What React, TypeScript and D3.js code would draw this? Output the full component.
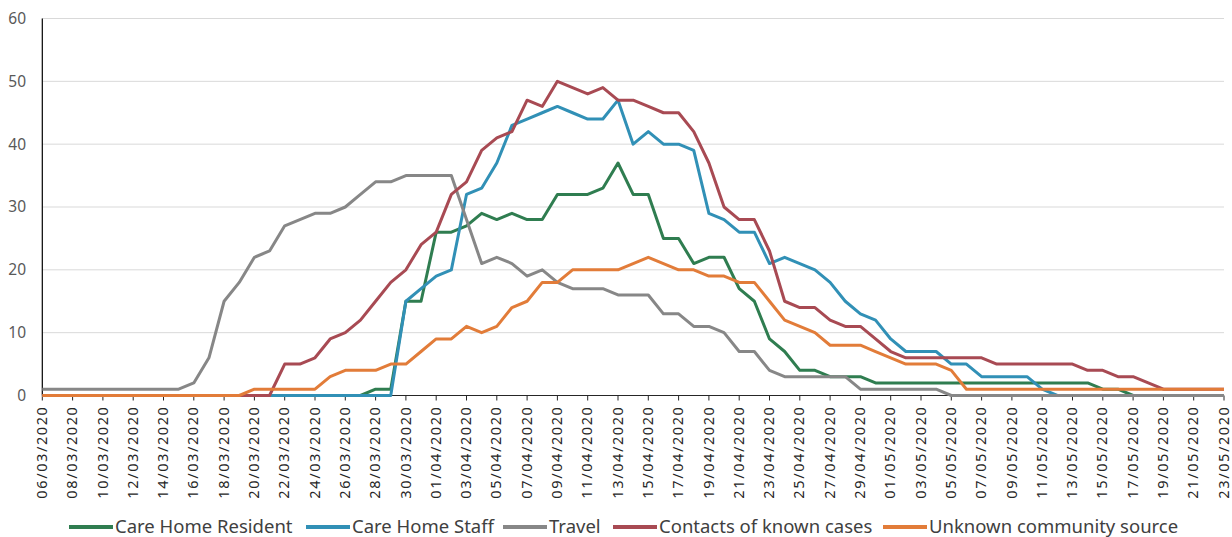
import * as d3 from "d3";

// Daily cases by likely source, 06/03/2020 .. 23/05/2020
const startDate = "06/03/2020";
const endDate = "23/05/2020";

const seriesNames = [
  "Care Home Resident",
  "Care Home Staff",
  "Travel",
  "Contacts of known cases",
  "Unknown community source",
];

const careHomeResident = [
  0, 0, 0, 0, 0, 0, 0, 0, 0, 0, 0, 0, 0, 0, 0, 0, 0, 0, 0, 0, 0, 0,
  1, 1, 15, 15, 26, 26, 27, 29, 28, 29, 28, 28, 32, 32, 32, 33, 37, 32, 32,
  25, 25, 21, 22, 22, 17, 15, 9, 7, 4, 4, 3, 3, 3,
  2, 2, 2, 2, 2, 2, 2, 2, 2, 2, 2, 2, 2, 2, 2, 1, 1,
  0, 0, 0, 0, 0, 0, 0,
];

const careHomeStaff = [
  0, 0, 0, 0, 0, 0, 0, 0, 0, 0, 0, 0, 0, 0, 0, 0, 0, 0, 0, 0, 0, 0, 0, 0,
  15, 17, 19, 20, 32, 33, 37, 43, 44, 45, 46, 45, 44, 44, 47, 40, 42, 40, 40,
  39, 29, 28, 26, 26, 21, 22, 21, 20, 18, 15, 13, 12, 9, 7, 7, 7, 5, 5,
  3, 3, 3, 3, 1,
  0, 0, 0, 0, 0, 0, 0, 0, 0, 0, 0, 0,
];

const travel = [
  1, 1, 1, 1, 1, 1, 1, 1, 1, 1,
  2, 6, 15, 18, 22, 23, 27, 28, 29, 29, 30, 32, 34, 34, 35, 35, 35, 35,
  28, 21, 22, 21, 19, 20, 18, 17, 17, 17, 16, 16, 16, 13, 13, 11, 11, 10,
  7, 7, 4, 3, 3, 3, 3, 3, 1, 1, 1, 1, 1, 1,
  0, 0, 0, 0, 0, 0, 0, 0, 0, 0, 0, 0, 0, 0, 0, 0, 0, 0, 0,
];

const contacts = [
  0, 0, 0, 0, 0, 0, 0, 0, 0, 0, 0, 0, 0, 0, 0, 0,
  5, 5, 6, 9, 10, 12, 15, 18, 20, 24, 26, 32, 34, 39, 41, 42, 47, 46, 50,
  49, 48, 49, 47, 47, 46, 45, 45, 42, 37, 30, 28, 28, 23, 15, 14, 14, 12,
  11, 11, 9, 7, 6, 6, 6, 6, 6, 6, 5, 5, 5, 5, 5, 5, 4, 4, 3, 3, 2,
  1, 1, 1, 1, 1,
];

const unknownSource = [
  0, 0, 0, 0, 0, 0, 0, 0, 0, 0, 0, 0, 0, 0,
  1, 1, 1, 1, 1, 3, 4, 4, 4, 5, 5, 7, 9, 9, 11, 10, 11, 14, 15, 18, 18,
  20, 20, 20, 20, 21, 22, 21, 20, 20, 19, 19, 18, 18, 15, 12, 11, 10, 8,
  8, 8, 7, 6, 5, 5, 5, 4,
  1, 1, 1, 1, 1, 1, 1, 1, 1, 1, 1, 1, 1, 1, 1, 1, 1, 1,
];

const yTicks = [0, 10, 20, 30, 40, 50, 60];

const colors = ["#2f7d50", "#3190b6", "#878787", "#a84a53", "#e27c39"];
const legendX = [69, 306, 503, 613, 883];

const parseDate = d3.utcParse("%d/%m/%Y");
const fmt = d3.utcFormat("%d/%m/%Y");

export default function App() {
  document.body.style.margin = "0";
  const width = 1232;
  const height = 537;
  const left = 42.3;
  const right = 1224;
  const top = 18.5;
  const bottom = 395.5;

  const t0 = parseDate(startDate)!;
  const t1 = parseDate(endDate)!;
  const dates = d3.utcDay.range(t0, d3.utcDay.offset(t1, 1));
  const labelDates = dates.filter((_, i) => i % 2 === 0);

  const x = d3.scaleUtc().domain([t0, t1]).range([left, right]);
  const y = d3.scaleLinear().domain([0, 60]).range([bottom, top]);

  const allSeries = [careHomeResident, careHomeStaff, travel, contacts, unknownSource];
  const line = d3
    .line<number>()
    .x((_, i) => x(dates[i]))
    .y((d) => y(d));

  const font = "'Noto Sans', 'Open Sans', sans-serif";

  return (
    <svg width={width} height={height} style={{ display: "block", background: "#fff" }}>
      {/* gridlines */}
      {yTicks.filter((v) => v > 0).map((v) => (
        <line key={v} x1={left} x2={right} y1={y(v)} y2={y(v)} stroke="#d9d9d9" strokeWidth={1} />
      ))}
      {/* y labels */}
      {yTicks.map((v) => (
        <text key={v} x={26} y={y(v)} dy="0.35em" textAnchor="end" fontSize={15.5} fill="#595959" fontFamily={font}>
          {v}
        </text>
      ))}
      {/* axes */}
      <line x1={left} x2={left} y1={top} y2={bottom} stroke="#000" strokeWidth={1.2} />
      <line x1={left} x2={right} y1={bottom} y2={bottom} stroke="#262626" strokeWidth={1.2} />
      {labelDates.map((d) => (
        <g key={+d} transform={`translate(${x(d)},${bottom})`}>
          <line y1={0} y2={5} stroke="#262626" strokeWidth={1} />
          <text
            transform="rotate(-90)"
            x={-10}
            y={0}
            dy="0.32em"
            textAnchor="end"
            fontSize={14.5}
            letterSpacing={1.6}
            fill="#262626"
            fontFamily={font}
          >
            {fmt(d)}
          </text>
        </g>
      ))}
      {/* series */}
      {allSeries.map((s, k) => (
        <path
          key={k}
          d={line(s) ?? ""}
          fill="none"
          stroke={colors[k]}
          strokeWidth={3}
          strokeLinejoin="round"
        />
      ))}
      {/* legend */}
      {seriesNames.map((name, k) => (
        <g key={name} transform={`translate(${legendX[k]},527)`}>
          <line x1={0} x2={44} y1={0} y2={0} stroke={colors[k]} strokeWidth={4} />
          <text x={46} y={0} dy="0.35em" fontSize={18.5} fill="#404040" fontFamily={font}>
            {name}
          </text>
        </g>
      ))}
    </svg>
  );
}
